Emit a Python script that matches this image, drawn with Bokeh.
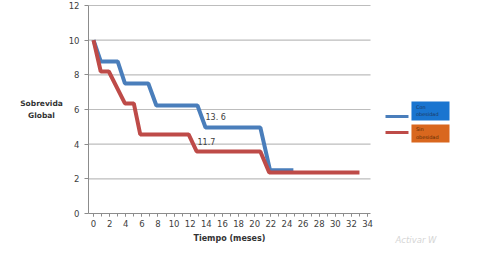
from bokeh.plotting import figure
from bokeh.models import Range1d, SingleIntervalTicker, FixedTicker
from bokeh.core.properties import value
from bokeh.embed import file_html
from bokeh.resources import INLINE

# --- data ---
t_con = [0, 0.9, 3.0, 3.9, 6.8, 7.8, 12.9, 13.9, 20.7, 21.9, 24.8]
s_con = [10, 8.77, 8.77, 7.5, 7.5, 6.23, 6.23, 4.96, 4.96, 2.5, 2.5]
t_sin = [0, 0.9, 1.9, 3.9, 5.0, 5.8, 11.8, 12.8, 20.7, 21.8, 33.0]
s_sin = [10, 8.19, 8.19, 6.35, 6.35, 4.56, 4.56, 3.58, 3.58, 2.37, 2.37]
series_names = ["Con\nobesidad", "Sin\nobesidad"]
annot_x = [13.9, 12.9]
annot_y = [5.54, 4.15]
annot_text = ["13. 6", "11.7"]
y_ticks = [0, 2, 4, 6, 8, 10, 12]
x_title = "Tiempo (meses)"
y_title = "Sobrevida\nGlobal"
watermark = "Activar W"

FONT = "DejaVu Sans"
BLUE = "#4A7EBB"
RED = "#BE4B48"

fig_w, fig_h = 464, 245
x_axis_start, x_axis_end = -0.62, 34.37
px_x = 8.06          # pixels per month
px_y = 17.33         # pixels per survival unit
axis_px_left = 88    # pixel column of the y axis
top_px = 5           # pixel row of y = 12

x_start = x_axis_start - axis_px_left / px_x
x_end = x_axis_start + (fig_w - axis_px_left) / px_x
y_end = 12 + top_px / px_y
y_start = 12 - (fig_h - top_px) / px_y

p = figure(width=fig_w, height=fig_h, x_range=Range1d(x_start, x_end),
           y_range=Range1d(y_start, y_end),
           output_backend="svg", toolbar_location=None,
           min_border_left=0, min_border_right=0, min_border_top=0, min_border_bottom=0)
p.outline_line_color = None
p.background_fill_color = "white"
p.border_fill_color = "white"

# grid (drawn so it stops at the end of the x axis)
p.xgrid.visible = False
p.ygrid.visible = False
gy = y_ticks[1:]
p.segment(x0=[x_axis_start] * len(gy), x1=[x_axis_end] * len(gy), y0=gy, y1=gy,
          line_color="#BDBDBD", line_width=1.2)

# x axis (fixed at y = 0)
xa = p.xaxis[0]
xa.fixed_location = 0
xa.ticker = SingleIntervalTicker(interval=2, num_minor_ticks=2)
xa.bounds = (x_axis_start, x_axis_end)
xa.axis_line_color = "#8C8C8C"
xa.major_tick_line_color = "#8C8C8C"
xa.minor_tick_line_color = "#8C8C8C"
xa.major_tick_in = 0
xa.major_tick_out = 3
xa.minor_tick_in = 0
xa.minor_tick_out = 3
xa.major_label_text_font = FONT
xa.major_label_text_font_size = "8.5px"
xa.major_label_text_color = "#404040"
xa.major_label_standoff = 4

# y axis (fixed at the start of the x axis)
ya = p.yaxis[0]
ya.fixed_location = x_axis_start
ya.ticker = FixedTicker(ticks=y_ticks)
ya.bounds = (0, 12)
ya.axis_line_color = "#8C8C8C"
ya.major_tick_line_color = "#8C8C8C"
ya.minor_tick_line_color = None
ya.major_tick_in = 0
ya.major_tick_out = 4
ya.major_label_text_font = FONT
ya.major_label_text_font_size = "8.5px"
ya.major_label_text_color = "#404040"
ya.major_label_standoff = 5

# axis titles
p.text(x=[16.87], y=[-1.44], text=[x_title], text_font=value(FONT), text_font_size="8px",
       text_font_style="bold", text_color="#333333", text_align="center",
       text_baseline="middle")
p.text(x=[-6.45], y=[6.0], text=[y_title], text_font=value(FONT), text_font_size="7.5px",
       text_font_style="bold", text_color="#333333", text_align="center",
       text_baseline="middle", text_line_height=1.3)

# series
p.line(t_con, s_con, line_color=BLUE, line_width=4)
p.line(t_sin, s_sin, line_color=RED, line_width=4)

# annotations
p.text(x=annot_x, y=annot_y, text=annot_text, text_font=value(FONT), text_font_size="8px",
       text_color="#404040", text_baseline="middle", text_align="left")

# legend (manual)
leg_line_x0, leg_line_x1 = 36.23, 39.08
box_l, box_r = 39.45, 44.17
line_y = [5.60, 4.67]
box_top = [6.46, 5.14]
box_bot = [5.37, 4.10]
box_colors = ["#1A75D0", "#D9671E"]
txt_colors = ["#1B3560", "#5A2A05"]
for i in range(2):
    p.line([leg_line_x0, leg_line_x1], [line_y[i], line_y[i]],
           line_color=[BLUE, RED][i], line_width=3)
    p.quad(left=box_l, right=box_r, top=box_top[i], bottom=box_bot[i],
           fill_color=box_colors[i], line_color=None)
    p.text(x=[box_l + 0.55], y=[box_top[i] - 0.12], text=[series_names[i]],
           text_font=value(FONT), text_font_size="5px", text_color=txt_colors[i],
           text_baseline="top", text_align="left", text_line_height=1.25)

# watermark
p.text(x=[37.47], y=[-1.53], text=[watermark], text_font=value(FONT), text_font_size="8.5px",
       text_font_style="italic", text_color="#D5D5D5", text_baseline="middle",
       text_align="left")

open("out.html", "w").write(file_html(p, INLINE))
